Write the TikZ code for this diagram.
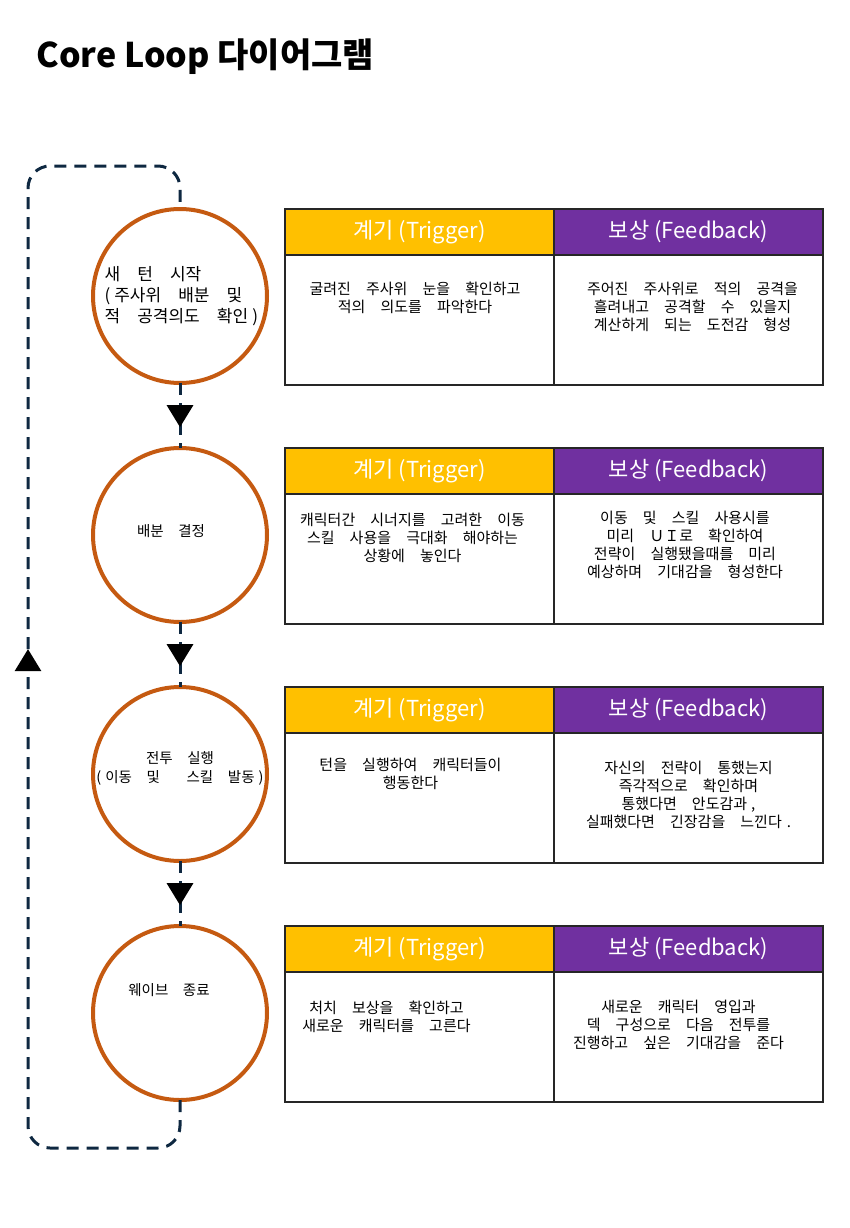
\documentclass[tikz,border=0pt]{standalone}
\usepackage{fontspec}
\setmainfont{Noto Sans CJK KR}
\newfontfamily\bodyfont{Noto Sans CJK KR}[WordSpace=3]
\newfontfamily\stagefont{Noto Sans CJK KR}[WordSpace=4.5]
\usepackage{tikz}
\usetikzlibrary{positioning}
\usetikzlibrary{arrows.meta}
\usetikzlibrary{decorations.markings}

\definecolor{stageorange}{HTML}{C55A11}
\definecolor{trigyellow}{HTML}{FFC000}
\definecolor{feedpurple}{HTML}{7030A0}
\definecolor{loopnavy}{HTML}{0E2841}
\definecolor{cellline}{HTML}{262626}

\begin{document}
\begin{tikzpicture}[x=1pt, y=-1pt,
    stage/.style={circle, draw=stageorange, line width=4pt, minimum size=174pt, inner sep=0pt, outer sep=0pt},
    stagetext/.style={font=\stagefont\fontsize{14.5}{19}\selectfont, align=center},
    headtext/.style={text=white, font=\fontsize{22}{26}\selectfont},
    trighead/.style={draw=cellline, line width=1.6pt, fill=trigyellow, minimum width=269pt, minimum height=46pt, inner sep=0pt, outer sep=0pt, label={[headtext]center:계기 (Trigger)}},
    feedhead/.style={draw=cellline, line width=1.6pt, fill=feedpurple, minimum width=269pt, minimum height=46pt, inner sep=0pt, outer sep=0pt, label={[headtext]center:보상 (Feedback)}},
    cellbox/.style={draw=cellline, line width=1.6pt, minimum width=269pt, minimum height=130pt, inner sep=0pt, outer sep=0pt},
    celltext/.style={font=\bodyfont\fontsize{15}{18}\selectfont, align=center, anchor=north, inner sep=0pt},
    flow/.style={draw=loopnavy, line width=3pt, dash pattern=on 12pt off 8pt},
    midtip/.style={postaction={decorate}, decoration={markings, mark=at position #1 with {\arrow{Triangle[width=26pt, length=22pt, color=black]}}}}
]
    \useasboundingbox (0,0) rectangle (850,1228);

    \node[anchor=base west, font=\bfseries\fontsize{34}{40}\selectfont] (title) at (33,68) {Core Loop 다이어그램};

    % stages
    \node[stage] (s1) at (180,296) {};
    \node[stage, below=65pt of s1] (s2) {};
    \node[stage, below=65pt of s2] (s3) {};
    \node[stage, below=65pt of s3] (s4) {};

    \node[stagetext, font=\stagefont\fontsize{17}{21}\selectfont, align=left, anchor=west] at ([xshift=8pt]s1.west) {새 턴 시작\\(\kern4pt 주사위 배분 및\\적 공격의도 확인\kern4pt)};
    \node[stagetext] at ([xshift=-9pt, yshift=4pt]s2) {배분 결정};
    \node[stagetext] at ([yshift=6pt]s3) {전투 실행\\(\kern4pt 이동 및\hspace{12pt} 스킬 발동\kern4pt)};
    \node[stagetext] at ([xshift=-11pt, yshift=23pt]s4) {웨이브 종료};

    \draw[flow, midtip=0.68] (s1) -- (s2);
    \draw[flow, midtip=0.68] (s2) -- (s3);
    \draw[flow, midtip=0.68] (s3) -- (s4);

    % loop back
    \coordinate (loopbottom) at (28,1148);
    \coordinate (looptop) at (180,166);
    \draw[flow, rounded corners=22pt, midtip=680pt] (s4.south) |- (loopbottom) |- (looptop) -- (s1.north);

    % row 1
    \node[trighead, anchor=north west] (trig1) at ([xshift=105pt]s1.north) {};
    \node[feedhead, right=0pt of trig1] (feed1) {};
    \node[cellbox, below=0pt of trig1] (trigbody1) {};
    \node[cellbox, below=0pt of feed1] (feedbody1) {};
    \node[celltext] at ([xshift=-4.5pt, yshift=-27pt]trigbody1.north) {굴려진 주사위 눈을 확인하고\\적의 의도를 파악한다};
    \node[celltext] at ([xshift=4pt, yshift=-27pt]feedbody1.north) {주어진 주사위로 적의 공격을\\흘려내고 공격할 수 있을지\\계산하게 되는 도전감 형성};

    % row 2
    \node[trighead, anchor=north west] (trig2) at ([xshift=105pt]s2.north) {};
    \node[feedhead, right=0pt of trig2] (feed2) {};
    \node[cellbox, below=0pt of trig2] (trigbody2) {};
    \node[cellbox, below=0pt of feed2] (feedbody2) {};
    \node[celltext] at ([xshift=-7pt, yshift=-19pt]trigbody2.north) {캐릭터간 시너지를 고려한 이동\\스킬 사용을 극대화 해야하는\\상황에 놓인다};
    \node[celltext] at ([xshift=-3.5pt, yshift=-17pt]feedbody2.north) {이동 및 스킬 사용시를\\미리 ＵＩ로 확인하여\\전략이 실행됐을때를 미리\\예상하며 기대감을 형성한다};

    % row 3
    \node[trighead, anchor=north west] (trig3) at ([xshift=105pt]s3.north) {};
    \node[feedhead, right=0pt of trig3] (feed3) {};
    \node[cellbox, below=0pt of trig3] (trigbody3) {};
    \node[cellbox, below=0pt of feed3] (feedbody3) {};
    \node[celltext] at ([xshift=-9pt, yshift=-25pt]trigbody3.north) {턴을 실행하여 캐릭터들이\\행동한다};
    \node[celltext] at ([yshift=-28pt]feedbody3.north) {자신의 전략이 통했는지\\즉각적으로 확인하며\\통했다면 안도감과\kern4pt,\\실패했다면 긴장감을 느낀다\kern5pt.};

    % row 4
    \node[trighead, anchor=north west] (trig4) at ([xshift=105pt]s4.north) {};
    \node[feedhead, right=0pt of trig4] (feed4) {};
    \node[cellbox, below=0pt of trig4] (trigbody4) {};
    \node[cellbox, below=0pt of feed4] (feedbody4) {};
    \node[celltext] at ([xshift=-33pt, yshift=-29pt]trigbody4.north) {처치 보상을 확인하고\\새로운 캐릭터를 고른다};
    \node[celltext] at ([xshift=-10pt, yshift=-28pt]feedbody4.north) {새로운 캐릭터 영입과\\덱 구성으로 다음 전투를\\진행하고 싶은 기대감을 준다};
\end{tikzpicture}
\end{document}
